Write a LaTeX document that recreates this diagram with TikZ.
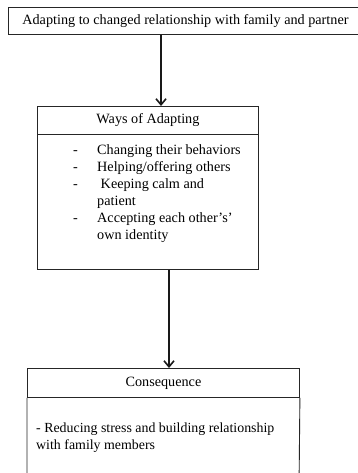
\documentclass[tikz,border=0pt]{standalone}
\usepackage{fontspec}
\setmainfont{Liberation Serif}
\usetikzlibrary{arrows.meta}
\begin{document}
\begin{tikzpicture}[x=1pt,y=-1pt,
  box/.style={draw=black!85,line width=0.9pt,inner sep=0pt,anchor=north west,
    font=\fontsize{14.2}{17}\selectfont},
  arr/.style={draw=black!90,line width=1.8pt,
    -{Straight Barb[length=6pt,width=10pt,line width=1.6pt]}},
  txt/.style={inner sep=0pt,anchor=north west,align=left,
    font=\fontsize{14.2}{17}\selectfont}]
\useasboundingbox (0,0) rectangle (357,473);
\fill[white] (0,0) rectangle (357,473);

% top statement
\node[box,minimum width=354pt,minimum height=27pt] (top) at (8,7)
  {Adapting to changed relationship with family and partner};

% ways of adapting
\node[box,minimum width=221pt,minimum height=28pt] (wayshead) at (37,106)
  {Ways of Adapting};
\node[box,minimum width=221pt,minimum height=135pt] (waysbody) at (37,134) {};
\node[txt] (wayslist) at (73,142.5)
  {\begin{tabular}{@{}p{24pt}@{}l@{}}
   - & Changing their behaviors\\
   - & Helping/offering others\\
   - & \ Keeping calm and\\
     & patient\\
   - & Accepting each other’s’\\
     & own identity
   \end{tabular}};

% consequence
\node[box,minimum width=272pt,minimum height=29pt] (conshead) at (27,368)
  {Consequence};
\draw[draw=black!85,line width=0.9pt] (27,490) -- (conshead.south west)
  (conshead.south east) -- (299,490);
\node[txt,font=\fontsize{13.9}{16.5}\selectfont] (conslist) at (36,423)
  {- Reducing stress and building relationship\\with family members};

% connectors
\draw[arr] (161,0 |- top.south) -- (161,0 |- wayshead.north);
\draw[arr] (169,0 |- waysbody.south) -- (169,0 |- conshead.north);
\end{tikzpicture}
\end{document}
